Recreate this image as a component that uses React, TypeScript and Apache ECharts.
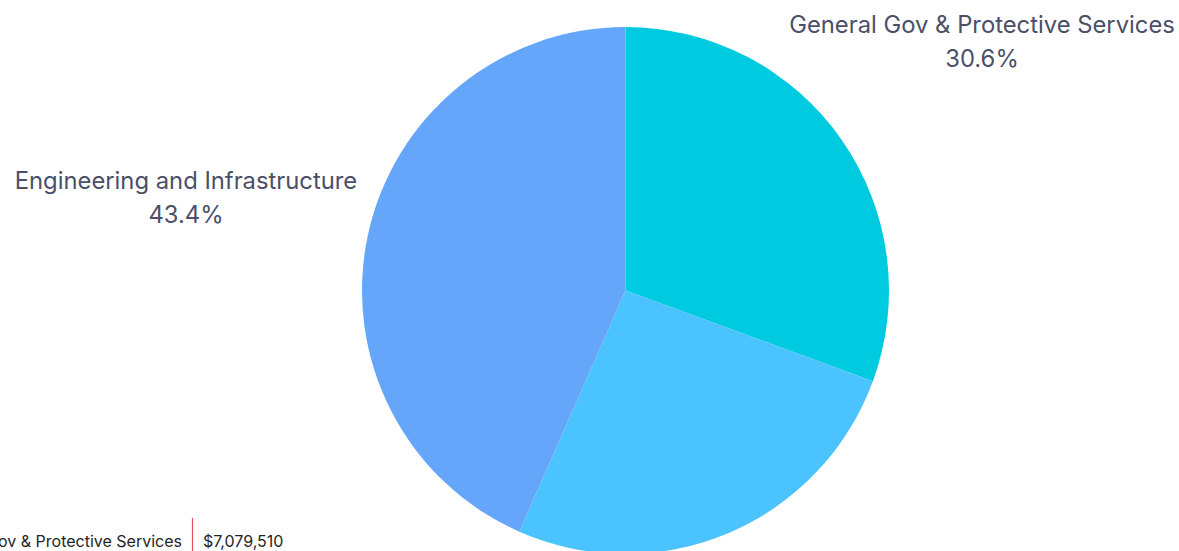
import React, { useEffect, useRef } from "react";
import * as echarts from "echarts";

const categories = [
  "General Gov & Protective Services",
  "Community and Recreation Services",
  "Engineering and Infrastructure",
];
const values = [7079510, 6015000, 10041000];
const colors = ["#00CADF", "#4AC3FE", "#65A6FA"];
const labelVisible = [true, false, true];

const labelPositions = [
  { x: 982, y: 41 },
  { x: 700, y: 700 },
  { x: 186, y: 197 },
];

const fmtMoney = (v: number) => "$" + v.toLocaleString("en-US");

export default function App() {
  const ref = useRef<HTMLDivElement>(null);
  useEffect(() => {
    if (!ref.current) return;
    const chart = echarts.init(ref.current, null, { renderer: "svg" });
    chart.setOption({
      animation: false,
      backgroundColor: "#ffffff",
      series: [
        {
          type: "pie",
          center: [625.5, 290.5],
          radius: 263.5,
          startAngle: 90,
          clockwise: true,
          avoidLabelOverlap: false,
          data: categories.map((c, i) => ({
            name: c,
            value: values[i],
            itemStyle: { color: colors[i] },
            label: { show: labelVisible[i] },
          })),
          label: {
            show: true,
            formatter: "{b}\n{d}%",
            fontFamily: "Inter",
            fontSize: 23.8,
            lineHeight: 34,
            color: "#4B4F68",
            align: "center",
          },
          labelLine: { show: false },
          labelLayout: (p: any) => ({
            x: labelPositions[p.dataIndex].x,
            y: labelPositions[p.dataIndex].y,
            align: "center",
            verticalAlign: "middle",
          }),
          emphasis: { disabled: true },
        },
      ],
      graphic: [
        {
          type: "text",
          x: 182,
          y: 541,
          style: {
            text: categories[0],
            align: "right",
            verticalAlign: "middle",
            fontFamily: "Inter",
            fontSize: 16,
            fill: "#252525",
          },
        },
        {
          type: "line",
          shape: { x1: 192.5, y1: 518, x2: 192.5, y2: 551 },
          style: { stroke: "#E8505B", lineWidth: 1.2 },
        },
        {
          type: "text",
          x: 203,
          y: 541,
          style: {
            text: fmtMoney(values[0]),
            align: "left",
            verticalAlign: "middle",
            fontFamily: "Inter",
            fontSize: 16,
            fill: "#252525",
          },
        },
      ],
    });
    return () => chart.dispose();
  }, []);
  return (
    <div
      ref={ref}
      style={{ position: "fixed", left: 0, top: 0, width: 1179, height: 551 }}
    />
  );
}
